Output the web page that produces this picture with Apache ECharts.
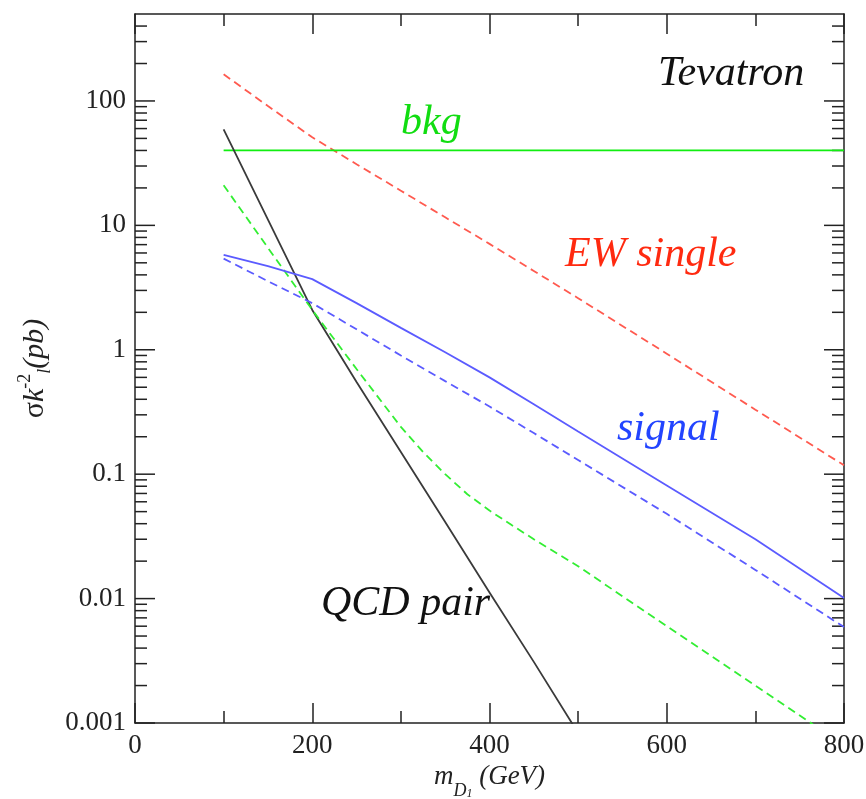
<!DOCTYPE html>
<html>
<head>
<meta charset="utf-8">
<script src="https://cdn.jsdelivr.net/npm/echarts@6/dist/echarts.min.js"></script>
<style>
  html, body { margin: 0; padding: 0; background: #fff; }
  #chart { width: 866px; height: 799px; }
</style>
</head>
<body>
<div id="chart"></div>
<script>
// m_D1 grid (GeV) shared by most curves
const mD = [100, 150, 200, 250, 300, 350, 400, 450, 500, 600, 700, 800];

// cross sections (pb)
const ewSingle   = [164, 91, 51, 31, 19, 11.6, 7.1, 4.3, 2.6, 0.93, 0.33, 0.118];
const bkg        = [40, 40, 40, 40, 40, 40, 40, 40, 40, 40, 40, 40];
const qcdPair    = [59, 11.1, 2.09, 0.55, 0.151, 0.0412, 0.0112, 0.0031, 0.00083, null, null, null];
const signal     = [5.8, 4.7, 3.7, 2.37, 1.5, 0.955, 0.60, 0.365, 0.22, 0.081, 0.030, 0.0101];
const signalDash = [5.4, 3.56, 2.37, 1.46, 0.90, 0.56, 0.35, 0.214, 0.13, 0.048, 0.017, 0.0059];

// green dashed curve bends more, so it gets its own finer grid
const mDGreen    = [100, 150, 200, 250, 300, 325, 350, 375, 400, 425, 450, 500, 600, 700, 800];
const qcdDashed  = [21, 6.6, 2.09, 0.70, 0.24, 0.151, 0.10, 0.069, 0.051, 0.039, 0.030, 0.0182, 0.0060, 0.0020, 0.00066];

// axis ticks
const yTickLabels = ['0.001', '0.01', '0.1', '1', '10', '100'];
const yMajorTicks = [0.001, 0.01, 0.1, 1, 10, 100];
const yMinorTicks = [];
for (let e = -3; e <= 2; e++) {
  for (let m = 2; m <= 9; m++) {
    const v = m * Math.pow(10, e);
    if (v < 500) yMinorTicks.push(v);
  }
}

const serif = '"Liberation Serif", "DejaVu Serif", serif';
const axisColor = '#222';

function pairs(xs, ys) {
  return xs.map((x, i) => [x, ys[i]]);
}

function lineSeries(name, xs, ys, color, dashed) {
  return {
    name, type: 'line', data: pairs(xs, ys), showSymbol: false, symbol: 'none',
    smooth: false, clip: true, silent: true,
    lineStyle: { color, width: 1.8, type: dashed ? [8, 5] : 'solid' }
  };
}

// y ticks on both sides, drawn through the y scale
function tickSeries(name, values, len) {
  return {
    name, type: 'custom', silent: true, clip: false,
    data: values.map(v => [0, v]),
    renderItem: (params, api) => {
      const l = api.coord([0, api.value(1)]);
      const r = api.coord([800, api.value(1)]);
      const st = { stroke: axisColor, lineWidth: 1.5 };
      return {
        type: 'group',
        children: [
          { type: 'line', shape: { x1: l[0], y1: l[1], x2: l[0] + len, y2: l[1] }, style: st },
          { type: 'line', shape: { x1: r[0] - len, y1: r[1], x2: r[0], y2: r[1] }, style: st }
        ]
      };
    }
  };
}

function xAxisCfg(pos, withLabels) {
  return {
    type: 'value', min: 0, max: 800, interval: 200, position: pos,
    axisLine: { show: true, onZero: false, lineStyle: { color: axisColor, width: 1.5 } },
    axisTick: { show: true, inside: true, length: 20, lineStyle: { color: axisColor, width: 1.5 } },
    minorTick: { show: true, splitNumber: 2, length: 12, lineStyle: { color: axisColor, width: 1.5 } },
    splitLine: { show: false },
    axisLabel: { show: withLabels, margin: 9, fontFamily: serif, fontSize: 27, color: axisColor }
  };
}

function yAxisCfg(pos, withLabels) {
  return {
    type: 'log', logBase: 10, min: 0.001, max: 500, position: pos,
    axisLine: { show: true, onZero: false, lineStyle: { color: axisColor, width: 1.5 } },
    axisTick: { show: false },
    splitLine: { show: false },
    axisLabel: {
      show: withLabels, margin: 9, fontFamily: serif, fontSize: 27, color: axisColor,
      formatter: v => {
        const l = Math.log10(v), e = Math.round(l);
        if (Math.abs(l - e) > 1e-6 || e < -3 || e > 2) return '';
        return yTickLabels[e + 3];
      }
    }
  };
}

const chart = echarts.init(document.getElementById('chart'), null, { renderer: 'canvas' });

const xBottom = xAxisCfg('bottom', true);
xBottom.name = '{m|m}{d|D}{one|1}{t| (GeV)}';
xBottom.nameLocation = 'middle';
xBottom.nameGap = 36;
xBottom.nameTextStyle = {
  rich: {
    m: { fontFamily: serif, fontStyle: 'italic', fontSize: 27, lineHeight: 36, verticalAlign: 'top', color: axisColor },
    d: { fontFamily: serif, fontStyle: 'italic', fontSize: 18, verticalAlign: 'bottom', color: axisColor },
    one: { fontFamily: serif, fontStyle: 'italic', fontSize: 12, verticalAlign: 'bottom', color: axisColor },
    t: { fontFamily: serif, fontStyle: 'italic', fontSize: 27, lineHeight: 36, verticalAlign: 'top', color: axisColor }
  }
};

const yLeft = yAxisCfg('left', true);
yLeft.name = '{s|σ}{k|k}{sup|-2}{sub|l}{t|(pb)}';
yLeft.nameLocation = 'middle';
yLeft.nameGap = 78;
yLeft.nameRotate = 90;
yLeft.nameTextStyle = {
  rich: {
    s: { fontFamily: serif, fontSize: 30, lineHeight: 38, color: axisColor },
    k: { fontFamily: serif, fontStyle: 'italic', fontSize: 30, lineHeight: 38, color: axisColor },
    sup: { fontFamily: serif, fontSize: 18, verticalAlign: 'top', color: axisColor },
    sub: { fontFamily: serif, fontStyle: 'italic', fontSize: 18, verticalAlign: 'bottom', color: axisColor },
    t: { fontFamily: serif, fontStyle: 'italic', fontSize: 30, lineHeight: 38, color: axisColor }
  }
};

const option = {
  animation: false,
  backgroundColor: '#fff',
  grid: { left: 135, right: 22, top: 14, bottom: 76, show: false, containLabel: false, outerBoundsMode: 'none' },
  xAxis: [xBottom, xAxisCfg('top', false)],
  yAxis: [yLeft, yAxisCfg('right', false)],
  series: [
    lineSeries('EW single', mD, ewSingle, '#ff5a4f', true),
    lineSeries('bkg', mD, bkg, '#11ee11', false),
    lineSeries('QCD pair', mD, qcdPair, '#3a3a3a', false),
    lineSeries('QCD dashed', mDGreen, qcdDashed, '#33ee33', true),
    lineSeries('signal', mD, signal, '#5b5bff', false),
    lineSeries('signal dashed', mD, signalDash, '#5b5bff', true),
    tickSeries('major ticks', yMajorTicks, 20),
    tickSeries('minor ticks', yMinorTicks, 12)
  ],
  graphic: [
    { type: 'text', x: 658, y: 74, style: { text: 'Tevatron', font: 'italic 42px ' + serif, fill: '#111', textVerticalAlign: 'middle' } },
    { type: 'text', x: 401, y: 123, style: { text: 'bkg', font: 'italic 42px ' + serif, fill: '#11dd11', textVerticalAlign: 'middle' } },
    { type: 'text', x: 565, y: 255, style: { text: 'EW single', font: 'italic 42px ' + serif, fill: '#ff2a10', textVerticalAlign: 'middle' } },
    { type: 'text', x: 617, y: 429, style: { text: 'signal', font: 'italic 42px ' + serif, fill: '#2244ff', textVerticalAlign: 'middle' } },
    { type: 'text', x: 321, y: 604, style: { text: 'QCD pair', font: 'italic 42px ' + serif, fill: '#111', textVerticalAlign: 'middle' } }
  ]
};

chart.setOption(option);
</script>
</body>
</html>
